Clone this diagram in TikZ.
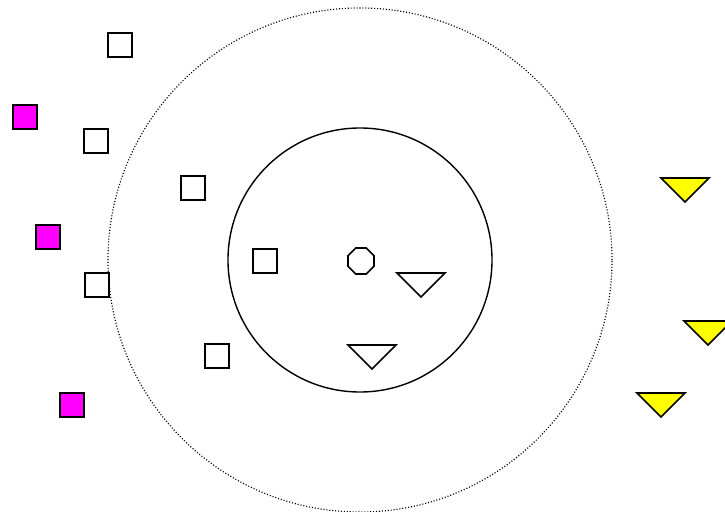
\documentclass[tikz,border=0pt]{standalone}
\usepackage{xcolor}
\usetikzlibrary{shapes.geometric}
\definecolor{pinkfill}{RGB}{255,0,255}
\definecolor{yellowfill}{RGB}{255,255,0}

\begin{document}
\begin{tikzpicture}[
    x=0.03cm, y=-0.03cm,
    plainsq/.style={draw, line width=1.4pt, rectangle, minimum size=0.72cm, inner sep=0pt, fill=white},
    magsq/.style={plainsq, fill=pinkfill},
    octo/.style={draw, line width=1.4pt, regular polygon, regular polygon sides=8, minimum size=0.84cm, inner sep=0pt},
    plaintri/.style={draw, line width=1.4pt, line join=miter},
    yellowtri/.style={plaintri, fill=yellowfill},
    outerring/.style={draw, line width=1pt, dash pattern=on 0.9pt off 1.6pt},
    innerring/.style={draw, line width=1.2pt}
  ]
    \useasboundingbox (0,0) rectangle (725,512);

    % rings
    \coordinate (centre) at (360,260);
    \draw[outerring] (centre) circle[radius=7.56cm];
    \draw[innerring] (centre) circle[radius=3.96cm];

    % query point
    \node[octo] (query) at (361,261) {};

    % white squares
    \node[plainsq] (sqa) at (120,45) {};
    \node[plainsq] (sqb) at (96,141) {};
    \node[plainsq] (sqc) at (193,188) {};
    \node[plainsq] (sqd) at (97,285) {};
    \node[plainsq] (sqe) at (265,261) {};
    \node[plainsq] (sqf) at (217,356) {};

    % magenta squares
    \node[magsq] (mga) at (25,117) {};
    \node[magsq] (mgb) at (48,237) {};
    \node[magsq] (mgc) at (72,405) {};

    % triangles (top centre given)
    \foreach \cx/\ty in {421/273, 372/345}
      \draw[plaintri] (\cx,\ty) ++(-24,0) -- ++(48,0) -- ++(-24,24) -- cycle;
    \foreach \cx/\ty in {685/178, 708/321, 661/393}
      \draw[yellowtri] (\cx,\ty) ++(-24,0) -- ++(48,0) -- ++(-24,24) -- cycle;
  \end{tikzpicture}
\end{document}
